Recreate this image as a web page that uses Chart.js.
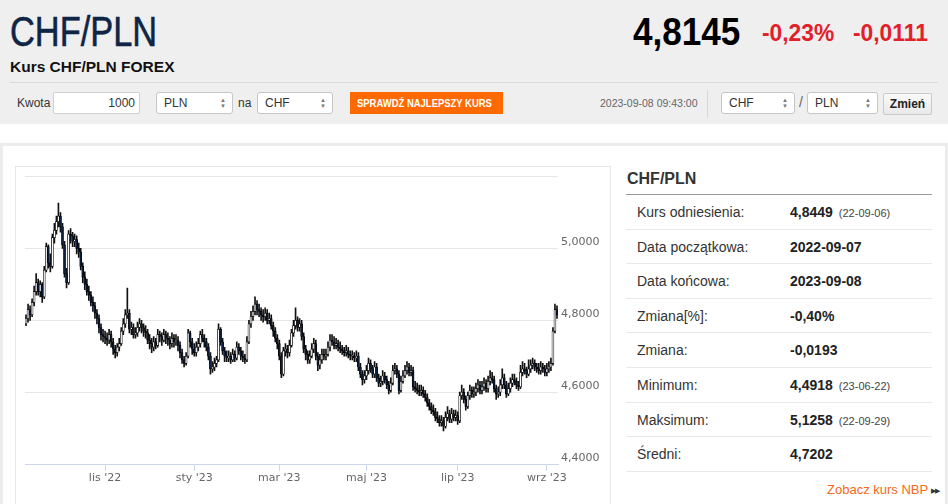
<!DOCTYPE html>
<html lang="pl">
<head>
<meta charset="utf-8">
<title>CHF/PLN</title>
<script src="https://cdn.jsdelivr.net/npm/chart.js@4.4.0/dist/chart.umd.min.js"></script>
<style>
  * { box-sizing: border-box; }
  body { margin: 0; width: 948px; height: 504px; overflow: hidden; background: #fff;
         font-family: Arial, "Liberation Sans", sans-serif; color: #333; position: relative; }
  .abs { position: absolute; white-space: nowrap; }
  .top { left: 0; top: 0; width: 948px; height: 124px; background: #efefef; }
  .squeeze { display: inline-block; transform-origin: 0 50%; }
  .title { left: 10px; top: 7px; font-size: 43px; color: #0f2545; }
  .title .squeeze { transform: scaleX(0.8); -webkit-text-stroke: 0.6px #0f2545; }
  .price { left: 633px; top: 10px; font-size: 39px; font-weight: bold; color: #000; }
  .price .squeeze { transform: scaleX(0.9); }
  .chg { top: 19px; font-size: 24px; font-weight: bold; color: #e3202a; }
  .chg .squeeze { transform: scaleX(0.95); }
  .sub { left: 10px; top: 58px; font-size: 15.5px; font-weight: bold; color: #111; }
  .sep { left: 10px; top: 82px; width: 928px; height: 1px; background: #d9d9d9; }
  .lbl { top: 96px; font-size: 12px; color: #333; }
  .input { top: 92px; height: 22px; background: #fff; border: 1px solid #cfcfcf; border-radius: 2px;
           font-size: 12px; line-height: 20px; text-align: right; padding-right: 4px; }
  .sel { top: 92px; height: 22px; background: #fff; border: 1px solid #c6c6c6; border-radius: 3px;
         font-size: 12px; line-height: 20px; padding-left: 7px; }
  .sel .arr { position: absolute; right: 6px; top: 4px; font-size: 6px; line-height: 6px; color: #777; }
  .btn { left: 350px; top: 92px; width: 153px; height: 22px; background: #ff6a00; color: #fff;
         font-size: 11px; font-weight: bold; line-height: 22px; padding-left: 7px; }
  .btn .squeeze { transform: scaleX(0.86); }
  .date { left: 600px; top: 97px; font-size: 10.5px; color: #666; }
  .vsep { left: 707px; top: 90px; width: 1px; height: 28px; background: #d6d6d6; }
  .zmien { left: 883px; top: 93px; width: 49px; height: 22px; background: linear-gradient(#fafafa, #e9e9e9);
           border: 1px solid #cacaca; border-radius: 2px; font-size: 12px; font-weight: bold; line-height: 20px;
           text-align: center; color: #222; }
  .frame { left: 0; top: 143px; width: 948px; height: 370px; border: 3px solid #ececec; border-bottom: 0; }
  .chartbox { left: 15px; top: 166px; width: 596px; height: 345px; border: 1px solid #e6e6e6; }
  .chartbox canvas { position: absolute; left: 0; top: 0; }
  .info { left: 626px; top: 168px; width: 306px; }
  .info h3 { margin: 0; height: 27px; font-size: 16px; font-weight: bold; color: #333; padding-left: 1px;
             border-bottom: 1px solid #9a9a9a; line-height: 22px; }
  .row { position: relative; height: 34.6px; border-bottom: 1px solid #e9e9e9; font-size: 14px; line-height: 35px; }
  .row .k { position: absolute; left: 11px; color: #333; }
  .row .v { position: absolute; left: 164px; font-weight: bold; color: #222; }
  .row .d { font-size: 11px; font-weight: normal; color: #444; margin-left: 6px; }
  .nbp { left: 827px; top: 482px; font-size: 13px; color: #f26a1b; }
  .nbp span { color: #333; font-size: 7px; margin-left: 3px; vertical-align: 1px; letter-spacing: -1px; }
</style>
</head>
<body>
<div class="abs top"></div>
<div class="abs title"><span class="squeeze">CHF/PLN</span></div>
<div class="abs price"><span class="squeeze">4,8145</span></div>
<div class="abs chg" style="left:762px"><span class="squeeze">-0,23%</span></div>
<div class="abs chg" style="left:853px"><span class="squeeze">-0,0111</span></div>
<div class="abs sub">Kurs CHF/PLN FOREX</div>
<div class="abs sep"></div>

<div class="abs lbl" style="left:17px">Kwota</div>
<div class="abs input" style="left:53px;width:87px">1000</div>
<div class="abs sel" style="left:156px;width:77px">PLN<span class="arr">▲<br>▼</span></div>
<div class="abs lbl" style="left:238px">na</div>
<div class="abs sel" style="left:257px;width:76px">CHF<span class="arr">▲<br>▼</span></div>
<div class="abs btn"><span class="squeeze">SPRAWDŹ NAJLEPSZY KURS</span></div>
<div class="abs date">2023-09-08 09:43:00</div>
<div class="abs vsep"></div>
<div class="abs sel" style="left:721px;width:74px">CHF<span class="arr">▲<br>▼</span></div>
<div class="abs lbl" style="left:799px;font-size:14px;top:94px;color:#666">/</div>
<div class="abs sel" style="left:807px;width:71px">PLN<span class="arr">▲<br>▼</span></div>
<div class="abs zmien">Zmień</div>

<div class="abs frame"></div>
<div class="abs chartbox"><canvas id="chart" width="594" height="337"></canvas></div>

<div class="abs info">
  <h3>CHF/PLN</h3>
  <div class="row"><span class="k">Kurs odniesienia:</span><span class="v">4,8449<span class="d">(22-09-06)</span></span></div>
  <div class="row"><span class="k">Data początkowa:</span><span class="v">2022-09-07</span></div>
  <div class="row"><span class="k">Data końcowa:</span><span class="v">2023-09-08</span></div>
  <div class="row"><span class="k">Zmiana[%]:</span><span class="v">-0,40%</span></div>
  <div class="row"><span class="k">Zmiana:</span><span class="v">-0,0193</span></div>
  <div class="row"><span class="k">Minimum:</span><span class="v">4,4918<span class="d">(23-06-22)</span></span></div>
  <div class="row"><span class="k">Maksimum:</span><span class="v">5,1258<span class="d">(22-09-29)</span></span></div>
  <div class="row"><span class="k">Średni:</span><span class="v">4,7202</span></div>
</div>
<div class="abs nbp">Zobacz kurs NBP<span>▶▶</span></div>

<script>
// trading days (weekdays), 2022-09-07 .. 2023-09-08
const days = [
  '2022-09-07','2022-09-08','2022-09-09','2022-09-12','2022-09-13','2022-09-14','2022-09-15','2022-09-16','2022-09-19','2022-09-20','2022-09-21','2022-09-22','2022-09-23','2022-09-26','2022-09-27','2022-09-28','2022-09-29','2022-09-30',
  '2022-10-03','2022-10-04','2022-10-05','2022-10-06','2022-10-07','2022-10-10','2022-10-11','2022-10-12','2022-10-13','2022-10-14','2022-10-17','2022-10-18','2022-10-19','2022-10-20','2022-10-21','2022-10-24','2022-10-25','2022-10-26','2022-10-27','2022-10-28','2022-10-31',
  '2022-11-01','2022-11-02','2022-11-03','2022-11-04','2022-11-07','2022-11-08','2022-11-09','2022-11-10','2022-11-11','2022-11-14','2022-11-15','2022-11-16','2022-11-17','2022-11-18','2022-11-21','2022-11-22','2022-11-23','2022-11-24','2022-11-25','2022-11-28','2022-11-29','2022-11-30',
  '2022-12-01','2022-12-02','2022-12-05','2022-12-06','2022-12-07','2022-12-08','2022-12-09','2022-12-12','2022-12-13','2022-12-14','2022-12-15','2022-12-16','2022-12-19','2022-12-20','2022-12-21','2022-12-22','2022-12-23','2022-12-26','2022-12-27','2022-12-28','2022-12-29','2022-12-30',
  '2023-01-02','2023-01-03','2023-01-04','2023-01-05','2023-01-06','2023-01-09','2023-01-10','2023-01-11','2023-01-12','2023-01-13','2023-01-16','2023-01-17','2023-01-18','2023-01-19','2023-01-20','2023-01-23','2023-01-24','2023-01-25','2023-01-26','2023-01-27','2023-01-30','2023-01-31',
  '2023-02-01','2023-02-02','2023-02-03','2023-02-06','2023-02-07','2023-02-08','2023-02-09','2023-02-10','2023-02-13','2023-02-14','2023-02-15','2023-02-16','2023-02-17','2023-02-20','2023-02-21','2023-02-22','2023-02-23','2023-02-24','2023-02-27','2023-02-28',
  '2023-03-01','2023-03-02','2023-03-03','2023-03-06','2023-03-07','2023-03-08','2023-03-09','2023-03-10','2023-03-13','2023-03-14','2023-03-15','2023-03-16','2023-03-17','2023-03-20','2023-03-21','2023-03-22','2023-03-23','2023-03-24','2023-03-27','2023-03-28','2023-03-29','2023-03-30','2023-03-31',
  '2023-04-03','2023-04-04','2023-04-05','2023-04-06','2023-04-07','2023-04-10','2023-04-11','2023-04-12','2023-04-13','2023-04-14','2023-04-17','2023-04-18','2023-04-19','2023-04-20','2023-04-21','2023-04-24','2023-04-25','2023-04-26','2023-04-27','2023-04-28',
  '2023-05-01','2023-05-02','2023-05-03','2023-05-04','2023-05-05','2023-05-08','2023-05-09','2023-05-10','2023-05-11','2023-05-12','2023-05-15','2023-05-16','2023-05-17','2023-05-18','2023-05-19','2023-05-22','2023-05-23','2023-05-24','2023-05-25','2023-05-26','2023-05-29','2023-05-30','2023-05-31',
  '2023-06-01','2023-06-02','2023-06-05','2023-06-06','2023-06-07','2023-06-08','2023-06-09','2023-06-12','2023-06-13','2023-06-14','2023-06-15','2023-06-16','2023-06-19','2023-06-20','2023-06-21','2023-06-22','2023-06-23','2023-06-26','2023-06-27','2023-06-28','2023-06-29','2023-06-30',
  '2023-07-03','2023-07-04','2023-07-05','2023-07-06','2023-07-07','2023-07-10','2023-07-11','2023-07-12','2023-07-13','2023-07-14','2023-07-17','2023-07-18','2023-07-19','2023-07-20','2023-07-21','2023-07-24','2023-07-25','2023-07-26','2023-07-27','2023-07-28','2023-07-31',
  '2023-08-01','2023-08-02','2023-08-03','2023-08-04','2023-08-07','2023-08-08','2023-08-09','2023-08-10','2023-08-11','2023-08-14','2023-08-15','2023-08-16','2023-08-17','2023-08-18','2023-08-21','2023-08-22','2023-08-23','2023-08-24','2023-08-25','2023-08-28','2023-08-29','2023-08-30','2023-08-31',
  '2023-09-01','2023-09-04','2023-09-05','2023-09-06','2023-09-07','2023-09-08'
];

const close = [
  4.805,4.830,4.815,4.850,4.880,4.905,4.880,4.900,4.865,4.940,5.005,4.960,4.950,5.030,5.050,5.075,5.090,5.060,
  5.010,4.930,4.905,5.040,5.035,5.020,5.025,5.000,4.990,4.950,4.920,4.900,4.880,4.870,4.850,4.840,4.820,4.805,4.780,4.760,4.755,
  4.750,4.745,4.760,4.740,4.720,4.710,4.725,4.735,4.770,4.790,4.815,4.820,4.775,4.780,4.760,4.765,4.780,4.790,4.780,4.770,4.765,4.745,
  4.735,4.725,4.740,4.730,4.760,4.755,4.745,4.760,4.750,4.745,4.735,4.750,4.740,4.745,4.730,4.710,4.690,4.680,4.700,4.765,4.740,4.720,
  4.710,4.725,4.735,4.760,4.750,4.740,4.725,4.700,4.665,4.670,4.680,4.690,4.775,4.740,4.715,4.700,4.695,4.700,4.690,4.705,4.695,4.725,
  4.715,4.700,4.695,4.690,4.740,4.790,4.810,4.825,4.845,4.830,4.825,4.815,4.810,4.820,4.800,4.805,4.785,4.770,4.750,4.735,
  4.700,4.650,4.715,4.720,4.710,4.730,4.765,4.785,4.800,4.780,4.790,4.755,4.720,4.705,4.690,4.700,4.720,4.735,4.700,4.675,4.690,4.705,4.700,
  4.705,4.725,4.745,4.740,4.730,4.735,4.725,4.720,4.715,4.710,4.715,4.705,4.700,4.700,4.695,4.700,4.670,4.650,4.635,4.645,
  4.660,4.680,4.665,4.650,4.670,4.640,4.625,4.630,4.645,4.635,4.620,4.605,4.625,4.660,4.665,4.650,4.605,4.630,4.645,4.660,4.670,4.655,4.660,
  4.615,4.610,4.605,4.600,4.605,4.595,4.585,4.570,4.560,4.550,4.545,4.530,4.525,4.515,4.520,4.505,4.530,4.540,4.525,4.540,4.530,4.535,
  4.520,4.590,4.600,4.580,4.560,4.590,4.605,4.595,4.600,4.610,4.620,4.605,4.615,4.625,4.610,4.630,4.640,4.635,4.610,4.595,4.600,
  4.620,4.640,4.620,4.595,4.610,4.625,4.635,4.630,4.620,4.615,4.655,4.665,4.660,4.650,4.665,4.675,4.680,4.670,4.665,4.660,4.670,4.665,4.655,
  4.665,4.670,4.680,4.770,4.830,4.815
];

const high = [
  4.815,4.845,4.840,4.860,4.895,4.930,4.915,4.910,4.905,4.950,5.015,5.010,4.985,5.040,5.070,5.090,5.126,5.100,
  5.070,5.020,4.945,5.050,5.055,5.045,5.040,5.035,5.015,5.000,4.960,4.935,4.915,4.895,4.880,4.865,4.850,4.830,4.815,4.790,4.775,
  4.770,4.765,4.775,4.770,4.750,4.730,4.735,4.750,4.780,4.805,4.830,4.890,4.830,4.795,4.790,4.780,4.795,4.805,4.800,4.790,4.785,4.775,
  4.760,4.750,4.755,4.750,4.775,4.770,4.765,4.775,4.770,4.765,4.755,4.765,4.760,4.760,4.755,4.740,4.720,4.700,4.710,4.775,4.770,4.750,
  4.735,4.740,4.750,4.770,4.775,4.760,4.750,4.735,4.710,4.685,4.695,4.700,4.790,4.780,4.750,4.725,4.715,4.715,4.710,4.720,4.715,4.740,
  4.735,4.725,4.715,4.705,4.755,4.800,4.825,4.840,4.865,4.855,4.845,4.835,4.830,4.835,4.830,4.820,4.815,4.795,4.780,4.760,
  4.745,4.710,4.725,4.735,4.730,4.745,4.775,4.800,4.835,4.810,4.805,4.800,4.765,4.730,4.715,4.715,4.735,4.750,4.745,4.710,4.705,4.720,4.720,
  4.720,4.740,4.760,4.760,4.755,4.750,4.745,4.740,4.730,4.725,4.730,4.725,4.715,4.715,4.710,4.715,4.710,4.680,4.660,4.660,
  4.675,4.695,4.690,4.675,4.685,4.680,4.650,4.645,4.660,4.655,4.645,4.630,4.640,4.675,4.680,4.675,4.660,4.645,4.660,4.675,4.685,4.680,4.675,
  4.670,4.630,4.625,4.620,4.620,4.615,4.605,4.595,4.580,4.570,4.565,4.555,4.545,4.535,4.535,4.530,4.545,4.560,4.550,4.555,4.550,4.550,
  4.545,4.600,4.620,4.610,4.590,4.600,4.620,4.615,4.615,4.625,4.635,4.630,4.630,4.640,4.635,4.645,4.660,4.655,4.645,4.620,4.615,
  4.635,4.665,4.650,4.630,4.625,4.640,4.650,4.650,4.640,4.630,4.675,4.685,4.680,4.670,4.690,4.690,4.695,4.690,4.680,4.680,4.685,4.680,4.675,
  4.680,4.685,4.695,4.780,4.845,4.840
];

const low = [
  4.785,4.795,4.800,4.810,4.840,4.870,4.870,4.865,4.850,4.860,4.935,4.945,4.935,4.945,5.015,5.040,5.060,5.045,
  5.000,4.920,4.890,4.900,5.015,5.005,5.005,4.985,4.975,4.940,4.905,4.885,4.870,4.855,4.840,4.825,4.805,4.790,4.765,4.745,4.740,
  4.735,4.730,4.735,4.725,4.705,4.695,4.700,4.715,4.730,4.760,4.780,4.805,4.765,4.760,4.750,4.750,4.755,4.770,4.765,4.755,4.750,4.735,
  4.720,4.710,4.715,4.720,4.725,4.740,4.730,4.740,4.735,4.730,4.720,4.725,4.725,4.730,4.715,4.695,4.680,4.670,4.675,4.695,4.725,4.705,
  4.700,4.700,4.715,4.725,4.740,4.725,4.715,4.690,4.650,4.655,4.660,4.670,4.685,4.730,4.705,4.685,4.685,4.685,4.680,4.685,4.685,4.690,
  4.705,4.690,4.685,4.680,4.685,4.735,4.780,4.800,4.815,4.815,4.810,4.800,4.795,4.800,4.790,4.790,4.775,4.755,4.740,4.720,
  4.690,4.640,4.645,4.700,4.695,4.700,4.725,4.755,4.775,4.770,4.770,4.745,4.710,4.690,4.680,4.680,4.695,4.710,4.690,4.660,4.665,4.680,4.690,
  4.690,4.700,4.715,4.730,4.720,4.720,4.715,4.710,4.705,4.700,4.700,4.695,4.690,4.690,4.685,4.685,4.660,4.640,4.620,4.625,
  4.635,4.650,4.655,4.640,4.640,4.630,4.615,4.615,4.620,4.625,4.610,4.595,4.600,4.620,4.650,4.640,4.595,4.600,4.625,4.640,4.650,4.645,4.645,
  4.605,4.600,4.595,4.590,4.590,4.585,4.575,4.560,4.550,4.540,4.535,4.520,4.515,4.505,4.505,4.492,4.500,4.520,4.515,4.515,4.520,4.520,
  4.510,4.515,4.580,4.570,4.550,4.555,4.580,4.585,4.585,4.590,4.600,4.595,4.595,4.605,4.600,4.600,4.620,4.625,4.600,4.580,4.585,
  4.590,4.610,4.610,4.585,4.590,4.600,4.615,4.620,4.610,4.605,4.610,4.645,4.650,4.640,4.645,4.655,4.665,4.660,4.655,4.650,4.650,4.655,4.645,
  4.645,4.655,4.660,4.675,4.765,4.805
];

// first session opens where the chart starts; every later open is the previous close
const firstOpen = 4.790;

const tickDates = ['2022-11-01', '2023-01-02', '2023-03-01', '2023-05-01', '2023-07-03', '2023-09-01'];
const tickLabels = ["lis '22", "sty '23", "mar '23", "maj '23", "lip '23", "wrz '23"];

const open = [firstOpen].concat(close.slice(0, -1));
const bodies = days.map((d, i) => [open[i], close[i]]);
const wicks = days.map((d, i) => [low[i], high[i]]);
const bodyColors = days.map((d, i) => close[i] >= open[i] ? '#ffffff' : '#0c1f3d');

Chart.defaults.font.family = '"DejaVu Sans", Arial, sans-serif';

new Chart(document.getElementById('chart'), {
  type: 'bar',
  data: {
    labels: days,
    datasets: [
      { label: 'wick', data: wicks, backgroundColor: '#111', barThickness: 1, grouped: false, order: 2 },
      { label: 'CHF/PLN', data: bodies, backgroundColor: bodyColors, borderColor: '#000', borderWidth: 0.7,
        borderSkipped: false, barThickness: 2, minBarLength: 1, grouped: false, order: 1 }
    ]
  },
  options: {
    responsive: false,
    animation: false,
    events: [],
    layout: { padding: { left: 9, top: 9, right: 0, bottom: 0 } },
    plugins: { legend: { display: false }, tooltip: { enabled: false } },
    scales: {
      x: {
        offset: true,
        grid: { drawOnChartArea: false, offset: false, color: '#ccd6eb', tickLength: 7 },
        border: { color: '#ccd6eb' },
        ticks: {
          autoSkip: false, maxRotation: 0, color: '#666', font: { size: 11 }, padding: 1,
          callback: (v) => {
            const k = tickDates.indexOf(days[v]);
            return k < 0 ? '' : tickLabels[k];
          }
        },
        afterBuildTicks: (s) => { s.ticks = s.ticks.filter(t => tickDates.includes(days[t.value])); },
        afterFit: (s) => { s.height = 40; }
      },
      y: {
        position: 'right',
        min: 4.4,
        max: 5.2,
        grid: { drawTicks: false, color: (c) => c.tick && c.tick.value < 4.41 ? 'rgba(0,0,0,0)' : '#e6e6e6' },
        border: { display: false },
        ticks: {
          stepSize: 0.2, color: '#666', font: { size: 11 }, padding: 3, labelOffset: -6,
          callback: (v) => v > 5.19 ? '' : v.toFixed(4).replace('.', ',')
        },
        afterFit: (s) => { s.width = 52; }
      }
    }
  }
});
</script>
</body>
</html>
